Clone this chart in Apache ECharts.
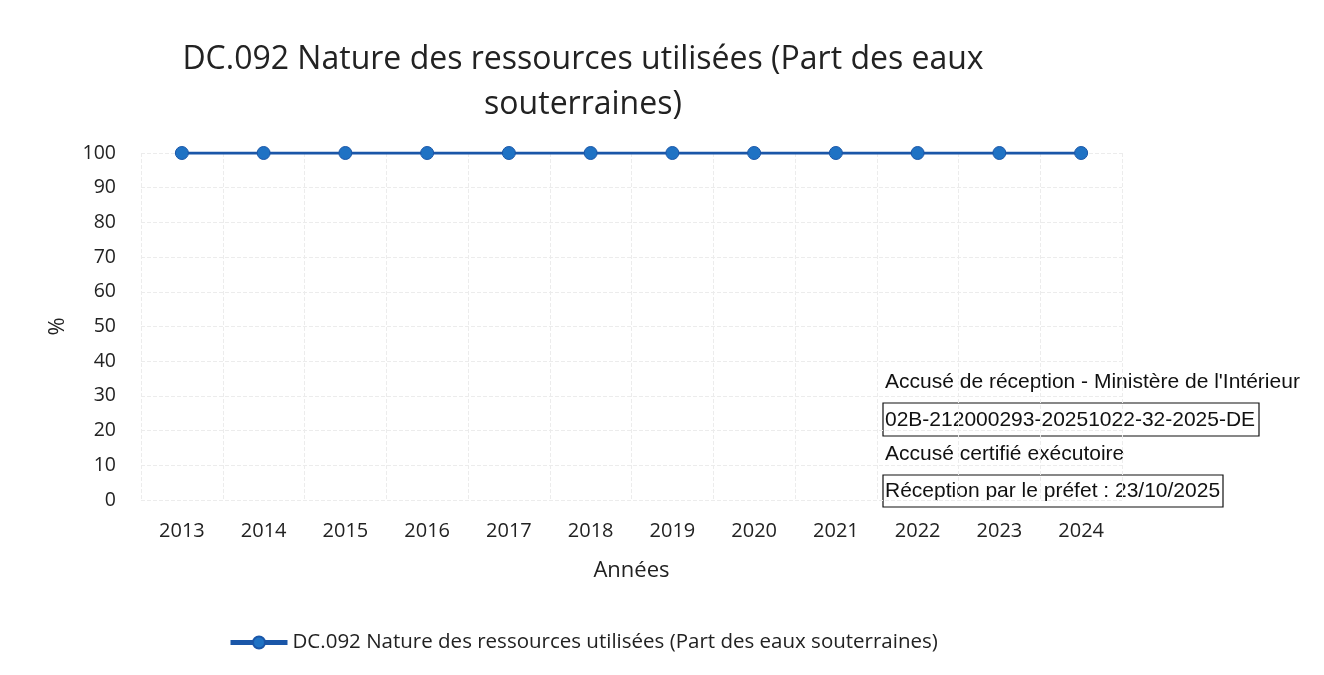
<!DOCTYPE html>
<html>
<head>
<meta charset="utf-8">
<script src="https://cdn.jsdelivr.net/npm/echarts@6/dist/echarts.min.js"></script>
<style>
  html, body { margin: 0; padding: 0; background: #fff; }
  #chart { width: 1324px; height: 675px; }
</style>
</head>
<body>
<div id="chart"></div>
<script>
  // données
  var annees = ['2013', '2014', '2015', '2016', '2017', '2018', '2019', '2020', '2021', '2022', '2023', '2024'];
  var partEauxSouterraines = [100, 100, 100, 100, 100, 100, 100, 100, 100, 100, 100, 100];
  var yTicks = [0, 10, 20, 30, 40, 50, 60, 70, 80, 90, 100];

  var serieNom = 'DC.092 Nature des ressources utilisées (Part des eaux souterraines)';
  var police = '"Open Sans", "Noto Sans", sans-serif';
  var policeTampon = '"Liberation Sans", Arial, sans-serif';

  var myChart = echarts.init(document.getElementById('chart'));
  myChart.setOption({
    backgroundColor: '#fff',
    title: {
      text: 'DC.092 Nature des ressources utilisées (Part des eaux\nsouterraines)',
      left: 578,
      top: 32,
      textAlign: 'center',
      textStyle: { fontFamily: police, fontSize: 32, fontWeight: 'normal', color: '#222', lineHeight: 45 }
    },
    legend: {
      data: [serieNom],
      left: 223,
      top: 627,
      itemWidth: 57,
      itemHeight: 15,
      itemGap: 2,
      lineStyle: { width: 5 },
      textStyle: { fontFamily: police, fontSize: 20.5, color: '#222' }
    },
    grid: { left: 141, right: 202, top: 153, bottom: 175 },
    xAxis: {
      type: 'category',
      data: annees,
      boundaryGap: true,
      name: 'Années',
      nameLocation: 'middle',
      nameGap: 60,
      nameTextStyle: { fontFamily: police, fontSize: 22, color: '#222' },
      axisLine: { show: false },
      axisTick: { show: false },
      axisLabel: { fontFamily: police, fontSize: 20, color: '#222', margin: 21 },
      splitLine: { show: true, lineStyle: { color: '#ececec', type: 'dashed', width: 1 } }
    },
    yAxis: {
      type: 'value',
      min: yTicks[0],
      max: yTicks[yTicks.length - 1],
      interval: 10,
      name: '%',
      nameLocation: 'middle',
      nameGap: 72,
      nameRotate: 90,
      nameTextStyle: { fontFamily: police, fontSize: 22, color: '#222' },
      axisLine: { show: false },
      axisTick: { show: false },
      axisLabel: { fontFamily: police, fontSize: 19.5, color: '#222', margin: 25 },
      splitLine: { lineStyle: { color: '#ececec', type: 'dashed', width: 1 } }
    },
    series: [{
      name: serieNom,
      type: 'line',
      data: partEauxSouterraines,
      symbol: 'circle',
      symbolSize: 13,
      lineStyle: { color: '#1a56a8', width: 3 },
      itemStyle: { color: '#1f72c4', borderColor: '#1a56a8', borderWidth: 1 }
    }],
    graphic: [
      { type: 'text', x: 885, y: 382, style: { text: "Accusé de réception - Ministère de l'Intérieur", fontFamily: policeTampon, fontSize: 21, fill: '#111', textVerticalAlign: 'middle' } },
      { type: 'rect', shape: { x: 883, y: 403, width: 376, height: 33 }, style: { fill: 'none', stroke: '#111', lineWidth: 1.2 } },
      { type: 'text', x: 885, y: 420, style: { text: '02B-212000293-20251022-32-2025-DE', fontFamily: policeTampon, fontSize: 21, fill: '#111', textVerticalAlign: 'middle' } },
      { type: 'text', x: 885, y: 454, style: { text: 'Accusé certifié exécutoire', fontFamily: policeTampon, fontSize: 21, fill: '#111', textVerticalAlign: 'middle' } },
      { type: 'rect', shape: { x: 883, y: 475, width: 340, height: 32 }, style: { fill: 'none', stroke: '#111', lineWidth: 1.2 } },
      { type: 'text', x: 885, y: 491, style: { text: 'Réception par le préfet : 23/10/2025', fontFamily: policeTampon, fontSize: 21, fill: '#111', textVerticalAlign: 'middle' } }
    ]
  });
</script>
</body>
</html>
